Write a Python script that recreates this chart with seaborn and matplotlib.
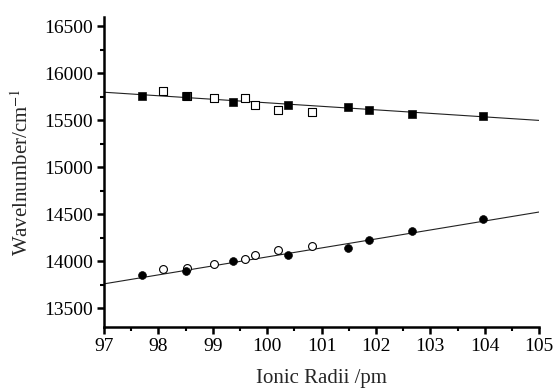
import matplotlib
matplotlib.use("Agg")
import matplotlib.pyplot as plt
import pandas as pd
import seaborn as sns
from matplotlib.ticker import MultipleLocator

# Ionic radii (pm) and band positions (cm-1)
radii_filled = [97.69, 98.50, 99.38, 100.38, 101.48, 101.88, 102.67, 103.97]
radii_open = [98.08, 98.53, 99.03, 99.59, 99.78, 100.19, 100.83]

upper_filled = [15764, 15764, 15693, 15668, 15640, 15615, 15573, 15544]
upper_open = [15817, 15764, 15743, 15743, 15668, 15615, 15594]
lower_filled = [13857, 13892, 14008, 14069, 14143, 14224, 14326, 14450]
lower_open = [13913, 13934, 13969, 14026, 14065, 14125, 14164]

# Fitted lines (end points)
fit_x = [97, 105]
fit_upper = [15800, 15500]
fit_lower = [13760, 14525]

sns.set_theme(style="ticks")
plt.rcParams['font.family'] = ['Liberation Serif', 'DejaVu Serif']
plt.rcParams['mathtext.fontset'] = 'stix'

fig, ax = plt.subplots(figsize=(5.53, 3.88), dpi=100)
fig.subplots_adjust(left=0.188, right=0.975, top=0.956, bottom=0.157)

sns.lineplot(ax=ax, x=fit_x, y=fit_upper, color="#222222", linewidth=0.8)
sns.lineplot(ax=ax, x=fit_x, y=fit_lower, color="#222222", linewidth=0.8)

sns.scatterplot(ax=ax, x=radii_open, y=upper_open, marker="s", s=32,
                facecolor="white", edgecolor="black", linewidth=0.8, zorder=3)
sns.scatterplot(ax=ax, x=radii_filled, y=upper_filled, marker="s", s=32,
                color="black", edgecolor="black", zorder=4)
sns.scatterplot(ax=ax, x=radii_open, y=lower_open, marker="o", s=32,
                facecolor="white", edgecolor="black", linewidth=0.8, zorder=3)
sns.scatterplot(ax=ax, x=radii_filled, y=lower_filled, marker="o", s=32,
                color="black", edgecolor="black", zorder=4)

ax.set_xlim(97, 105)
ax.set_ylim(13300, 16600)
ax.xaxis.set_major_locator(MultipleLocator(1))
ax.xaxis.set_minor_locator(MultipleLocator(0.5))
ax.yaxis.set_major_locator(MultipleLocator(500))
ax.yaxis.set_minor_locator(MultipleLocator(250))

for side in ["top", "right"]:
    ax.spines[side].set_visible(False)
for side in ["left", "bottom"]:
    ax.spines[side].set_linewidth(1.8)
    ax.spines[side].set_color("black")

ax.tick_params(which="major", direction="out", length=5, width=1.8,
               labelsize=14, colors="black", pad=3)
ax.tick_params(which="minor", direction="out", length=3, width=1.5, colors="black")

ax.set_xlabel("Ionic Radii /pm", fontsize=15, labelpad=10)
ax.set_ylabel("Wavelnumber/cm$^{-1}$", fontsize=15, labelpad=8)

plt.savefig("out.png", dpi=100)
